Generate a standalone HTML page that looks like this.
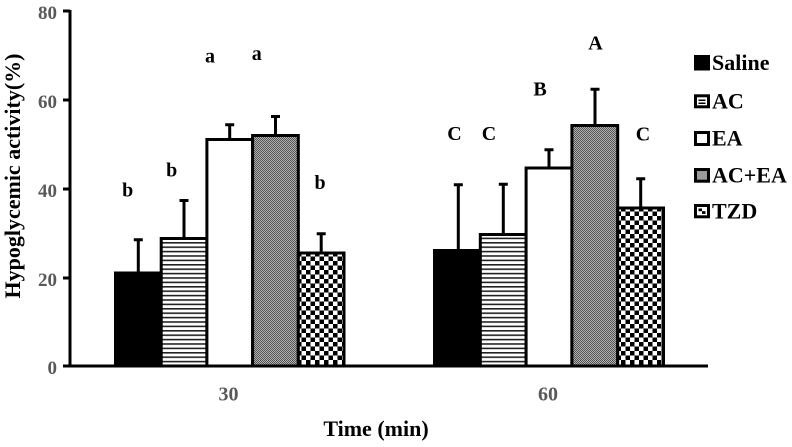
<!DOCTYPE html>
<html><head><meta charset="utf-8"><style>
html,body{margin:0;padding:0;background:#fff;}
svg{display:block;}
text{font-family:"Liberation Serif",serif;font-weight:bold;}
</style></head><body>
<svg width="792" height="447" viewBox="0 0 792 447" xmlns="http://www.w3.org/2000/svg">
<defs>
<pattern id="stripe" patternUnits="userSpaceOnUse" width="8" height="4.4">
<rect width="8" height="4.4" fill="#fff"/><rect y="0" width="8" height="1.6" fill="#222"/>
</pattern>
<pattern id="check" patternUnits="userSpaceOnUse" width="9" height="9">
<rect width="9" height="9" fill="#fff"/><rect width="4.5" height="4.5" fill="#000"/><rect x="4.5" y="4.5" width="4.5" height="4.5" fill="#000"/>
</pattern>
<pattern id="dither" patternUnits="userSpaceOnUse" width="2" height="2">
<rect width="2" height="2" fill="#b0b0b0"/><rect width="1" height="1" fill="#555"/><rect x="1" y="1" width="1" height="1" fill="#555"/>
</pattern>
</defs>

<!-- bars group 1 -->
<g stroke="#000" stroke-width="3">
<rect x="115.5" y="273" width="45.7" height="93" fill="#000"/>
<rect x="161.2" y="238.5" width="45.7" height="127.5" fill="url(#stripe)"/>
<rect x="206.9" y="139.5" width="45.7" height="226.5" fill="#fff"/>
<rect x="252.6" y="135.5" width="45.7" height="230.5" fill="url(#dither)"/>
<rect x="298.3" y="253" width="45.7" height="113" fill="url(#check)"/>
</g>
<!-- bars group 2 -->
<g stroke="#000" stroke-width="3">
<rect x="434.5" y="250.5" width="45.8" height="115.5" fill="#000"/>
<rect x="480.3" y="234.5" width="45.8" height="131.5" fill="url(#stripe)"/>
<rect x="526.1" y="168" width="45.8" height="198" fill="#fff"/>
<rect x="571.9" y="125.5" width="45.8" height="240.5" fill="url(#dither)"/>
<rect x="617.7" y="208" width="45.8" height="158" fill="url(#check)"/>
</g>

<!-- error bars -->
<g stroke="#000" stroke-width="3" fill="none">
<path d="M138.3 273 V239.8 M133.8 239.8 H142.8"/>
<path d="M184 238.5 V200.5 M179.5 200.5 H188.5"/>
<path d="M229.7 139.5 V124.8 M225.2 124.8 H234.2"/>
<path d="M275.5 135.5 V116.5 M271 116.5 H280"/>
<path d="M321.2 253 V233.8 M316.7 233.8 H325.7"/>
<path d="M458.3 250.5 V184.8 M453.8 184.8 H462.8"/>
<path d="M503.3 234.5 V184.2 M498.8 184.2 H507.8"/>
<path d="M549 168 V149.8 M544.5 149.8 H553.5"/>
<path d="M595 125.5 V89.2 M590.5 89.2 H599.5"/>
<path d="M640.7 208 V178.8 M636.2 178.8 H645.2"/>
</g>

<!-- axes -->
<g stroke="#000" stroke-width="3" fill="none">
<path d="M70 10 V367.5"/>
<path d="M68.5 366 H708"/>
<path d="M63 11 H70 M63 100 H70 M63 189 H70 M63 278 H70 M63 366 H70"/>
</g>

<!-- y tick labels -->
<g fill="#595959" font-size="19" text-anchor="end">
<text x="57" y="19">80</text>
<text x="57" y="108">60</text>
<text x="57" y="197">40</text>
<text x="57" y="286">20</text>
<text x="57" y="374">0</text>
</g>
<!-- x tick labels -->
<g fill="#595959" font-size="20" text-anchor="middle">
<text x="228.5" y="400.5">30</text>
<text x="548" y="400.5">60</text>
</g>

<!-- axis titles -->
<text x="376" y="436" font-size="22" text-anchor="middle" fill="#000">Time (min)</text>
<text transform="translate(20,176) rotate(-90)" font-size="22" text-anchor="middle" fill="#000">Hypoglycemic activity(%)</text>

<!-- significance letters -->
<g fill="#000" font-size="20" text-anchor="middle">
<text x="127.7" y="196.5">b</text>
<text x="171.7" y="176.5">b</text>
<text x="210" y="62.5">a</text>
<text x="256.7" y="60">a</text>
<text x="320" y="189">b</text>
<text x="454.5" y="140">C</text>
<text x="489" y="140">C</text>
<text x="540" y="95.7">B</text>
<text x="595.5" y="49.3">A</text>
<text x="643" y="140.5">C</text>
</g>

<!-- legend -->
<g stroke="#000" stroke-width="3">
<rect x="695.5" y="56.5" width="13" height="12.5" fill="#000"/>
<rect x="695.5" y="95.8" width="13" height="11" fill="#fff"/>
<rect x="695.5" y="132.5" width="13" height="12" fill="#fff"/>
<rect x="695.5" y="169.5" width="13" height="11.7" fill="#9a9a9a"/>
<rect x="695.5" y="205.5" width="13" height="11.3" fill="#fff"/>
</g>
<g fill="#000">
<rect x="698.5" y="99.5" width="7" height="1.5"/>
<rect x="698.5" y="102.5" width="7" height="1.5"/>
<rect x="698.5" y="208.5" width="3.5" height="2.7"/>
<rect x="702" y="211.2" width="3.5" height="2.7"/>
</g>
<g fill="#000" font-size="22">
<text x="712" y="70">Saline</text>
<text x="712" y="108.3">AC</text>
<text x="712" y="145.7">EA</text>
<text x="712" y="182.7">AC+EA</text>
<text x="712" y="218.3">TZD</text>
</g>
</svg>
</body></html>
